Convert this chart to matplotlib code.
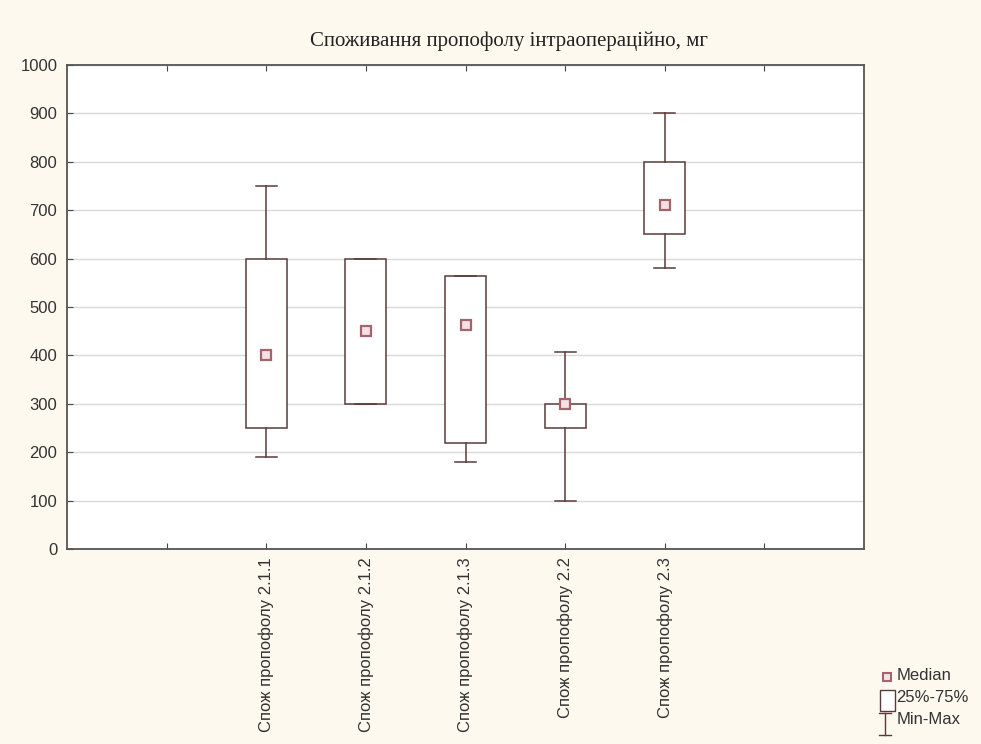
import numpy as np
import matplotlib
matplotlib.use("Agg")
from matplotlib import pyplot as plt
from matplotlib.lines import Line2D
from matplotlib.patches import Rectangle

plt.rcParams['font.family'] = ['Liberation Sans', 'DejaVu Sans']

# data
labels = ['Спож пропофолу 2.1.1', 'Спож пропофолу 2.1.2', 'Спож пропофолу 2.1.3',
          'Спож пропофолу 2.2', 'Спож пропофолу 2.3']
medians = [400, 450, 463, 300, 710]
q1 = [250, 300, 220, 250, 650]
q3 = [600, 600, 565, 300, 800]
mins = [190, 300, 180, 100, 580]
maxs = [750, 600, 565, 408, 900]

title = 'Споживання пропофолу інтраопераційно, мг'

edge = '#5a3a3c'
med_edge = '#a4646c'
med_face = '#f3e1e3'
bg = '#fdf9ef'
txt = '#333333'

fig = plt.figure(figsize=(9.81, 7.44), dpi=100, facecolor=bg)
ax = fig.add_axes([0.0683, 0.2621, 0.8125, 0.6505])
ax.set_facecolor('white')

stats = []
for lab, m, a, b, lo, hi in zip(labels, medians, q1, q3, mins, maxs):
    stats.append(dict(label=lab, med=m, q1=a, q3=b, whislo=lo, whishi=hi, fliers=[]))

pos = np.arange(2, 2 + len(labels))
ax.bxp(stats, positions=pos, widths=0.41, patch_artist=True, showfliers=False,
       boxprops=dict(facecolor='white', edgecolor=edge, linewidth=1.1),
       whiskerprops=dict(color=edge, linewidth=1.1),
       capprops=dict(color=edge, linewidth=1.1),
       capwidths=0.21,
       medianprops=dict(linewidth=0), manage_ticks=False, zorder=3)
ax.plot(pos, medians, ls='none', marker='s', ms=6.5, mfc=med_face, mec=med_edge,
        mew=1.6, zorder=4)

ax.set_xlim(0, 8)
ax.set_ylim(0, 1000)
ax.set_yticks(np.arange(0, 1001, 100))
ax.set_xticks(np.arange(1, 8))
ax.set_xticklabels([''] + labels + [''], rotation=90, fontsize=12, color=txt)
ax.tick_params(axis='y', direction='in', length=4, pad=7, labelsize=12,
               labelcolor=txt, color='#444444')
ax.tick_params(axis='x', direction='in', length=4, pad=6, top=True, color='#444444')
ax.yaxis.grid(True, color='#d9d9d9', linewidth=1.0)
ax.set_axisbelow(True)
for s in ax.spines.values():
    s.set_color('#555555')
    s.set_linewidth(1.3)

fig.text(0.519, 0.945, title, ha='center', va='center', fontsize=15,
         family='Liberation Serif', color='#222222')

# legend drawn by hand, below right
W, H = 981.0, 744.0
def fx(x):
    return x / W
def fy(y):
    return 1 - y / H

fig.add_artist(Line2D([fx(887)], [fy(677)], marker='s', ms=5.5, mfc=med_face,
                      mec=med_edge, mew=1.5, ls='none'))
fig.add_artist(Rectangle((fx(880), fy(711)), 15 / W, 21 / H, facecolor='white',
                         edgecolor=edge, linewidth=1.0))
fig.add_artist(Line2D([fx(885), fx(885)], [fy(713), fy(735)], color=edge, lw=1.0))
fig.add_artist(Line2D([fx(879), fx(891)], [fy(713), fy(713)], color=edge, lw=1.0))
fig.add_artist(Line2D([fx(879), fx(891)], [fy(735), fy(735)], color=edge, lw=1.0))
fig.text(fx(897), fy(675), 'Median', fontsize=12, va='center', color=txt)
fig.text(fx(896), fy(697), '25%-75%', fontsize=12, va='center', color=txt)
fig.text(fx(897), fy(719), 'Min-Max', fontsize=12, va='center', color=txt)

fig.savefig('out.png', dpi=100, facecolor=bg)
